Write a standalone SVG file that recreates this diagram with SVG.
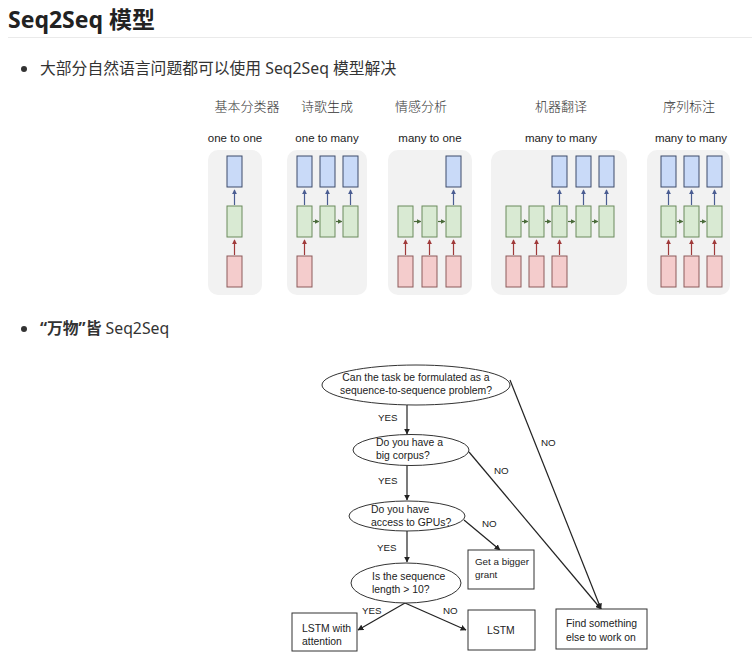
<svg xmlns="http://www.w3.org/2000/svg" width="752" height="671" viewBox="0 0 752 671">
<defs>
<style>
.h{font-family:"Noto Sans","Noto Sans CJK SC",sans-serif;font-size:23px;font-weight:bold;fill:#222}
.b{font-family:"Noto Sans","Noto Sans CJK SC",sans-serif;font-size:15.8px;fill:#333}
.cn{font-family:"Noto Sans CJK SC",sans-serif;font-size:13px;fill:#333;font-weight:300;text-anchor:middle}
.en{font-family:"Liberation Sans",Arial,sans-serif;font-size:11.5px;fill:#222;text-anchor:middle}
.panel{fill:#f2f2f2}
.bl{fill:#c9daf8;stroke:#3d4b6b;stroke-width:1}
.gr{fill:#d9ead3;stroke:#6b8a5c;stroke-width:1}
.rd{fill:#f4cccc;stroke:#8c5a5a;stroke-width:1}
.ab{stroke:#4a5d92;stroke-width:1.2;marker-end:url(#mb)}
.ar{stroke:#a03a3a;stroke-width:1.2;marker-end:url(#mr)}
.ag{stroke:#4b6b3b;stroke-width:1.2;marker-end:url(#mg)}
.ft{font-family:"Liberation Sans",Arial,sans-serif;font-size:10.4px;fill:#222}
.fs{font-family:"Liberation Sans",Arial,sans-serif;font-size:9.8px;fill:#222}
.fl{font-family:"Liberation Sans",Arial,sans-serif;font-size:9.8px;fill:#222}
.node{fill:#fff;stroke:#333;stroke-width:1}
.edge{stroke:#222;stroke-width:1.2;fill:none;marker-end:url(#mk)}
</style>
<marker id="mb" viewBox="0 0 6 6" refX="5" refY="3" markerWidth="4" markerHeight="4" orient="auto"><path d="M0,0 L6,3 L0,6 z" fill="#4a5d92"/></marker>
<marker id="mr" viewBox="0 0 6 6" refX="5" refY="3" markerWidth="4" markerHeight="4" orient="auto"><path d="M0,0 L6,3 L0,6 z" fill="#a03a3a"/></marker>
<marker id="mg" viewBox="0 0 6 6" refX="5" refY="3" markerWidth="4" markerHeight="4" orient="auto"><path d="M0,0 L6,3 L0,6 z" fill="#4b6b3b"/></marker>
<marker id="mk" viewBox="0 0 10 10" refX="9" refY="5" markerWidth="6" markerHeight="6" markerUnits="userSpaceOnUse" orient="auto"><path d="M0,0 L10,5 L0,10 z" fill="#222"/></marker>
</defs>
<rect width="752" height="671" fill="#fff"/>

<text class="h" x="8" y="28">Seq2Seq 模型</text>
<line x1="8" y1="37.5" x2="752" y2="37.5" stroke="#eaeaea" stroke-width="1"/>
<circle cx="24" cy="69" r="3" fill="#333"/>
<text class="b" x="40" y="74">大部分自然语言问题都可以使用 Seq2Seq 模型解决</text>

<g id="rnn-types">
<text class="cn" x="247" y="111">基本分类器</text>
<text class="cn" x="327" y="111">诗歌生成</text>
<text class="cn" x="421" y="111">情感分析</text>
<text class="cn" x="561" y="111">机器翻译</text>
<text class="cn" x="689" y="111">序列标注</text>
<text class="en" x="235" y="142">one to one</text>
<text class="en" x="327" y="142">one to many</text>
<text class="en" x="430" y="142">many to one</text>
<text class="en" x="561" y="142">many to many</text>
<text class="en" x="691" y="142">many to many</text>

<g id="p1">
<rect class="panel" x="208" y="150" width="54" height="145" rx="10"/>
<rect class="bl" x="227" y="156" width="15" height="31"/>
<rect class="gr" x="227" y="206" width="15" height="31"/>
<rect class="rd" x="227" y="256" width="15" height="31"/>
<line class="ab" x1="234.5" y1="205" x2="234.5" y2="190"/>
<line class="ar" x1="234.5" y1="255" x2="234.5" y2="240"/>
</g>

<g id="p2">
<rect class="panel" x="287" y="150" width="80" height="145" rx="10"/>
<rect class="bl" x="297" y="156" width="15" height="31"/>
<rect class="bl" x="320" y="156" width="15" height="31"/>
<rect class="bl" x="343" y="156" width="15" height="31"/>
<rect class="gr" x="297" y="206" width="15" height="31"/>
<rect class="gr" x="320" y="206" width="15" height="31"/>
<rect class="gr" x="343" y="206" width="15" height="31"/>
<rect class="rd" x="297" y="256" width="15" height="31"/>
<line class="ab" x1="304.5" y1="205" x2="304.5" y2="190"/>
<line class="ab" x1="327.5" y1="205" x2="327.5" y2="190"/>
<line class="ab" x1="350.5" y1="205" x2="350.5" y2="190"/>
<line class="ar" x1="304.5" y1="255" x2="304.5" y2="240"/>
<line class="ag" x1="313" y1="221.5" x2="318.5" y2="221.5"/>
<line class="ag" x1="336" y1="221.5" x2="341.5" y2="221.5"/>
</g>

<g id="p3">
<rect class="panel" x="388" y="150" width="84" height="145" rx="10"/>
<rect class="bl" x="446" y="156" width="15" height="31"/>
<rect class="gr" x="398" y="206" width="15" height="31"/>
<rect class="gr" x="422" y="206" width="15" height="31"/>
<rect class="gr" x="446" y="206" width="15" height="31"/>
<rect class="rd" x="398" y="256" width="15" height="31"/>
<rect class="rd" x="422" y="256" width="15" height="31"/>
<rect class="rd" x="446" y="256" width="15" height="31"/>
<line class="ab" x1="453.5" y1="205" x2="453.5" y2="190"/>
<line class="ar" x1="405.5" y1="255" x2="405.5" y2="240"/>
<line class="ar" x1="429.5" y1="255" x2="429.5" y2="240"/>
<line class="ar" x1="453.5" y1="255" x2="453.5" y2="240"/>
<line class="ag" x1="414" y1="221.5" x2="420.5" y2="221.5"/>
<line class="ag" x1="438" y1="221.5" x2="444.5" y2="221.5"/>
</g>

<g id="p4">
<rect class="panel" x="491" y="150" width="136" height="145" rx="12"/>
<rect class="bl" x="552" y="156" width="15" height="31"/>
<rect class="bl" x="576" y="156" width="15" height="31"/>
<rect class="bl" x="599" y="156" width="15" height="31"/>
<rect class="gr" x="506" y="206" width="15" height="31"/>
<rect class="gr" x="529" y="206" width="15" height="31"/>
<rect class="gr" x="552" y="206" width="15" height="31"/>
<rect class="gr" x="576" y="206" width="15" height="31"/>
<rect class="gr" x="599" y="206" width="15" height="31"/>
<rect class="rd" x="506" y="256" width="15" height="31"/>
<rect class="rd" x="529" y="256" width="15" height="31"/>
<rect class="rd" x="552" y="256" width="15" height="31"/>
<line class="ab" x1="559.5" y1="205" x2="559.5" y2="190"/>
<line class="ab" x1="583.5" y1="205" x2="583.5" y2="190"/>
<line class="ab" x1="606.5" y1="205" x2="606.5" y2="190"/>
<line class="ar" x1="513.5" y1="255" x2="513.5" y2="240"/>
<line class="ar" x1="536.5" y1="255" x2="536.5" y2="240"/>
<line class="ar" x1="559.5" y1="255" x2="559.5" y2="240"/>
<line class="ag" x1="522" y1="221.5" x2="527.5" y2="221.5"/>
<line class="ag" x1="545" y1="221.5" x2="550.5" y2="221.5"/>
<line class="ag" x1="568" y1="221.5" x2="574.5" y2="221.5"/>
<line class="ag" x1="592" y1="221.5" x2="597.5" y2="221.5"/>
</g>

<g id="p5">
<rect class="panel" x="647" y="150" width="83" height="145" rx="10"/>
<rect class="bl" x="661" y="156" width="15" height="31"/>
<rect class="bl" x="684" y="156" width="15" height="31"/>
<rect class="bl" x="707" y="156" width="15" height="31"/>
<rect class="gr" x="661" y="206" width="15" height="31"/>
<rect class="gr" x="684" y="206" width="15" height="31"/>
<rect class="gr" x="707" y="206" width="15" height="31"/>
<rect class="rd" x="661" y="256" width="15" height="31"/>
<rect class="rd" x="684" y="256" width="15" height="31"/>
<rect class="rd" x="707" y="256" width="15" height="31"/>
<line class="ab" x1="668.5" y1="205" x2="668.5" y2="190"/>
<line class="ab" x1="691.5" y1="205" x2="691.5" y2="190"/>
<line class="ab" x1="714.5" y1="205" x2="714.5" y2="190"/>
<line class="ar" x1="668.5" y1="255" x2="668.5" y2="240"/>
<line class="ar" x1="691.5" y1="255" x2="691.5" y2="240"/>
<line class="ar" x1="714.5" y1="255" x2="714.5" y2="240"/>
<line class="ag" x1="677" y1="221.5" x2="682.5" y2="221.5"/>
<line class="ag" x1="700" y1="221.5" x2="705.5" y2="221.5"/>
</g>
</g>

<circle cx="24" cy="329" r="3" fill="#333"/>
<text class="b" x="40" y="334"><tspan font-weight="bold">“万物”皆</tspan> Seq2Seq</text>

<g id="connectors">
<line class="edge" x1="407" y1="405" x2="407" y2="434"/>
<line class="edge" x1="407" y1="465" x2="407" y2="500"/>
<line class="edge" x1="407" y1="531" x2="407" y2="562"/>
<line class="edge" x1="464" y1="520" x2="500" y2="550"/>
<line class="edge" x1="405" y1="603" x2="358" y2="630"/>
<line class="edge" x1="405" y1="603" x2="466" y2="630"/>
<line class="edge" x1="510" y1="380" x2="601" y2="609"/>
<line class="edge" x1="469" y1="452" x2="601" y2="609"/>
<text class="fl" x="378" y="421">YES</text>
<text class="fl" x="378" y="484">YES</text>
<text class="fl" x="377" y="551">YES</text>
<text class="fl" x="362" y="614">YES</text>
<text class="fl" x="443" y="614">NO</text>
<text class="fl" x="482" y="527">NO</text>
<text class="fl" x="494" y="474">NO</text>
<text class="fl" x="541" y="446">NO</text>
</g>

<g id="q1">
<ellipse class="node" cx="416" cy="385" rx="94" ry="20"/>
<text class="ft" x="416" y="381" text-anchor="middle">Can the task be formulated as a</text>
<text class="ft" x="416" y="394" text-anchor="middle">sequence-to-sequence problem?</text>
</g>
<g id="q2">
<ellipse class="node" cx="411" cy="450" rx="58" ry="15.5"/>
<text class="ft" x="376" y="446">Do you have a</text>
<text class="ft" x="376" y="459">big corpus?</text>
</g>
<g id="q3">
<ellipse class="node" cx="407" cy="516" rx="58" ry="15"/>
<text class="ft" x="371" y="513">Do you have</text>
<text class="ft" x="371" y="526">access to GPUs?</text>
</g>
<g id="q4">
<ellipse class="node" cx="406" cy="583" rx="55" ry="20"/>
<text class="ft" x="372" y="580">Is the sequence</text>
<text class="ft" x="372" y="593">length &gt; 10?</text>
</g>
<g id="grant">
<rect class="node" x="468" y="550" width="66" height="39"/>
<text class="fs" x="475" y="565">Get a bigger</text>
<text class="fs" x="475" y="578">grant</text>
</g>
<g id="lstm-att">
<rect class="node" x="292" y="613" width="65" height="38"/>
<text class="ft" x="302" y="632">LSTM with</text>
<text class="ft" x="302" y="645">attention</text>
</g>
<g id="lstm">
<rect class="node" x="468" y="610" width="67" height="40"/>
<text class="ft" x="487" y="634">LSTM</text>
</g>
<g id="other">
<rect class="node" x="556" y="609" width="91" height="40"/>
<text class="ft" x="566" y="627">Find something</text>
<text class="ft" x="566" y="641">else to work on</text>
</g>
</svg>
